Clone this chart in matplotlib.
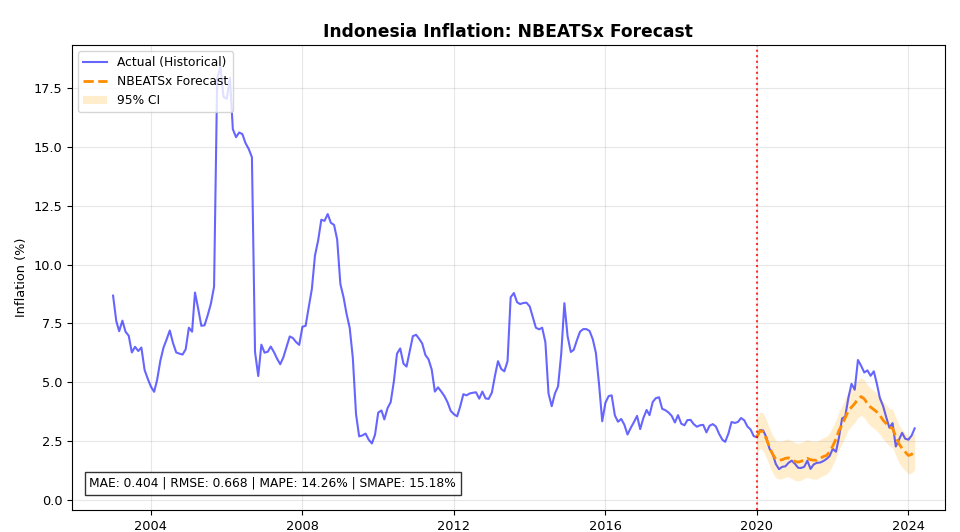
import matplotlib
matplotlib.use("Agg")
import matplotlib.pyplot as plt
import matplotlib.dates as mdates
import numpy as np
import pandas as pd

# monthly YoY inflation, Jan 2003 .. Mar 2024
actual = [
    8.68, 7.60, 7.17, 7.62, 7.15, 6.98, 6.27, 6.51, 6.33, 6.48, 5.53, 5.16,   # 2003
    4.82, 4.60, 5.11, 5.92, 6.47, 6.83, 7.20, 6.67, 6.27, 6.22, 6.18, 6.40,   # 2004
    7.32, 7.15, 8.81, 8.12, 7.40, 7.42, 7.84, 8.33, 9.06, 17.89, 18.38, 17.11,  # 2005
    17.03, 17.92, 15.74, 15.40, 15.60, 15.53, 15.15, 14.90, 14.55, 6.29, 5.27, 6.60,  # 2006
    6.26, 6.30, 6.52, 6.29, 6.01, 5.77, 6.06, 6.51, 6.95, 6.88, 6.71, 6.59,   # 2007
    7.36, 7.40, 8.17, 8.96, 10.38, 11.03, 11.90, 11.85, 12.14, 11.77, 11.68, 11.06,  # 2008
    9.17, 8.60, 7.92, 7.31, 6.04, 3.65, 2.71, 2.75, 2.83, 2.57, 2.41, 2.78,   # 2009
    3.72, 3.81, 3.43, 3.91, 4.16, 5.05, 6.22, 6.44, 5.80, 5.67, 6.33, 6.96,   # 2010
    7.02, 6.84, 6.65, 6.16, 5.98, 5.54, 4.61, 4.79, 4.61, 4.42, 4.15, 3.79,   # 2011
    3.65, 3.56, 3.97, 4.50, 4.45, 4.53, 4.56, 4.58, 4.31, 4.61, 4.32, 4.30,   # 2012
    4.57, 5.31, 5.90, 5.57, 5.47, 5.90, 8.61, 8.79, 8.40, 8.32, 8.37, 8.38,   # 2013
    8.22, 7.75, 7.32, 7.25, 7.32, 6.70, 4.53, 3.99, 4.53, 4.83, 6.23, 8.36,   # 2014
    6.96, 6.29, 6.38, 6.79, 7.15, 7.26, 7.26, 7.18, 6.83, 6.25, 4.89, 3.35,   # 2015
    4.14, 4.42, 4.45, 3.60, 3.33, 3.45, 3.21, 2.79, 3.07, 3.31, 3.58, 3.02,   # 2016
    3.49, 3.83, 3.61, 4.17, 4.33, 4.37, 3.88, 3.82, 3.72, 3.58, 3.30, 3.61,   # 2017
    3.25, 3.18, 3.40, 3.41, 3.23, 3.12, 3.18, 3.20, 2.88, 3.16, 3.23, 3.13,   # 2018
    2.82, 2.57, 2.48, 2.83, 3.32, 3.28, 3.32, 3.49, 3.39, 3.13, 3.00, 2.72,   # 2019
    2.68, 2.98, 2.96, 2.67, 2.19, 1.96, 1.54, 1.32, 1.42, 1.44, 1.59, 1.68,   # 2020
    1.55, 1.38, 1.37, 1.42, 1.68, 1.33, 1.52, 1.59, 1.60, 1.66, 1.75, 1.87,   # 2021
    2.18, 2.06, 2.64, 3.47, 3.55, 4.35, 4.94, 4.69, 5.95, 5.71, 5.42, 5.51,   # 2022
    5.28, 5.47, 4.97, 4.33, 4.00, 3.52, 3.08, 3.27, 2.28, 2.56, 2.86, 2.61,   # 2023
    2.57, 2.75, 3.05,                                                         # 2024
]

# NBEATSx forecast, Jan 2020 .. Mar 2024
forecast = [
    2.70, 2.95, 2.90, 2.60, 2.25, 1.95, 1.75, 1.70, 1.72, 1.78, 1.80, 1.72,
    1.65, 1.62, 1.65, 1.72, 1.78, 1.72, 1.70, 1.70, 1.78, 1.85, 1.90, 2.05,
    2.30, 2.60, 2.95, 3.20, 3.50, 3.80, 3.95, 4.10, 4.30, 4.40, 4.30, 4.10,
    3.95, 3.85, 3.75, 3.60, 3.40, 3.25, 3.10, 3.05, 2.70, 2.40, 2.20, 2.05,
    1.90, 1.95, 2.10,
]
ci_lower = [
    2.00, 2.20, 2.10, 1.80, 1.45, 1.15, 0.95, 0.90, 0.92, 0.98, 1.00, 0.92,
    0.85, 0.82, 0.85, 0.92, 0.98, 0.92, 0.90, 0.90, 0.98, 1.05, 1.10, 1.25,
    1.50, 1.80, 2.15, 2.40, 2.70, 3.00, 3.15, 3.30, 3.50, 3.60, 3.50, 3.30,
    3.15, 3.05, 2.95, 2.80, 2.60, 2.45, 2.30, 2.25, 1.90, 1.60, 1.40, 1.25,
    1.12, 1.15, 1.30,
]
ci_upper = [
    3.45, 3.75, 3.70, 3.40, 3.05, 2.75, 2.55, 2.50, 2.52, 2.58, 2.60, 2.52,
    2.45, 2.42, 2.45, 2.52, 2.58, 2.52, 2.50, 2.50, 2.58, 2.65, 2.70, 2.85,
    3.10, 3.40, 3.75, 4.00, 4.30, 4.60, 4.75, 4.90, 5.10, 5.20, 5.10, 4.90,
    4.75, 4.65, 4.55, 4.40, 4.20, 4.05, 3.90, 3.85, 3.50, 3.20, 3.00, 2.85,
    2.70, 2.75, 2.90,
]

metrics_text = "MAE: 0.404 | RMSE: 0.668 | MAPE: 14.26% | SMAPE: 15.18%"

dates = pd.date_range("2003-01-01", periods=len(actual), freq="MS")
fc_dates = pd.date_range("2020-01-01", periods=len(forecast), freq="MS")

plt.rcParams["font.size"] = 9.3

fig = plt.figure(figsize=(9.6, 5.32), dpi=100)
ax = fig.add_axes([0.075, 0.041, 0.909, 0.874])

ax.plot(dates, actual, color="blue", alpha=0.6, linewidth=1.5, label="Actual (Historical)")
ax.plot(fc_dates, forecast, color="darkorange", linestyle="--", linewidth=2, label="NBEATSx Forecast")
ax.fill_between(fc_dates, ci_lower, ci_upper, color="orange", alpha=0.2, linewidth=0, label="95% CI")
ax.axvline(pd.Timestamp("2020-01-01"), color="red", linestyle=":", linewidth=1.5, alpha=0.8)

ax.set_title("Indonesia Inflation: NBEATSx Forecast", fontsize=12.3, fontweight="bold")
ax.set_ylabel("Inflation (%)")
ax.grid(True, alpha=0.3)
ax.legend(loc="upper left", fontsize=8.8)

ax.xaxis.set_major_locator(mdates.YearLocator(4))
ax.xaxis.set_major_formatter(mdates.DateFormatter("%Y"))
ax.set_xlim(pd.Timestamp("2001-12-01"), pd.Timestamp("2024-12-15"))
ax.set_ylim(-0.42, 19.3)
ax.set_yticks(np.arange(0, 17.6, 2.5))

ax.text(0.02, 0.05, metrics_text, transform=ax.transAxes, fontsize=8.8,
        bbox=dict(boxstyle="square,pad=0.4", facecolor="white", edgecolor="black", alpha=0.8))

fig.savefig("out.png", dpi=100)
